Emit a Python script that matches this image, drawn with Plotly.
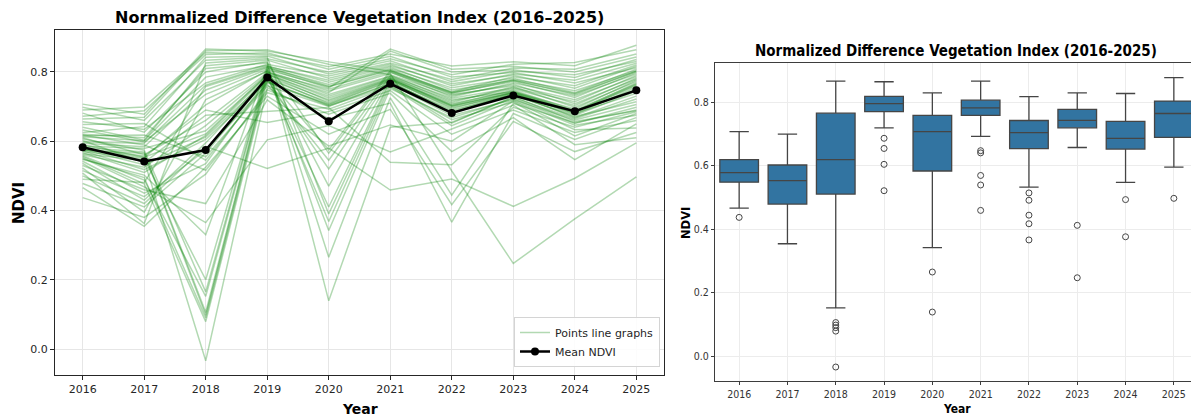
import numpy as np
import plotly.graph_objects as go

years = [2016, 2017, 2018, 2019, 2020, 2021, 2022, 2023, 2024, 2025]

# NDVI value of each sampled point (same point order in every year)
ndvi_2016 = [0.530, 0.570, 0.490, 0.555, 0.586, 0.437, 0.598, 0.547, 0.515, 0.574,
             0.613, 0.558, 0.466, 0.579, 0.625, 0.536, 0.567, 0.648, 0.594, 0.500,
             0.618, 0.549, 0.577, 0.664, 0.522, 0.606, 0.681, 0.561, 0.632, 0.582,
             0.478, 0.602, 0.690, 0.542, 0.640, 0.576, 0.616, 0.707, 0.564, 0.656,
             0.590, 0.508, 0.698, 0.610, 0.552, 0.672, 0.572, 0.620]
ndvi_2017 = [0.460, 0.549, 0.481, 0.477, 0.579, 0.380, 0.594, 0.502, 0.440, 0.565,
             0.601, 0.488, 0.354, 0.557, 0.642, 0.430, 0.510, 0.651, 0.584, 0.420,
             0.589, 0.495, 0.532, 0.669, 0.395, 0.574, 0.626, 0.525, 0.598, 0.569,
             0.410, 0.538, 0.699, 0.450, 0.603, 0.552, 0.618, 0.678, 0.544, 0.634,
             0.554, 0.362, 0.660, 0.561, 0.468, 0.688, 0.518, 0.610]
ndvi_2018 = [0.420, 0.200, 0.758, 0.079, 0.630, 0.505, 0.762, 0.330, 0.575, 0.098,
             0.785, 0.152, 0.525, 0.690, 0.842, 0.595, 0.617, 0.545, 0.748, 0.585,
             0.516, 0.090, 0.612, 0.861, 0.720, 0.165, 0.800, 0.645, 0.735, 0.106,
             0.565, 0.675, 0.856, 0.535, 0.818, 0.705, 0.555, 0.866, -0.034, 0.768,
             0.621, 0.826, 0.834, 0.660, 0.365, 0.850, 0.605, 0.810]
ndvi_2019 = [0.719, 0.810, 0.814, 0.774, 0.790, 0.748, 0.817, 0.816, 0.765, 0.792,
             0.819, 0.800, 0.730, 0.654, 0.846, 0.786, 0.788, 0.769, 0.812, 0.521,
             0.740, 0.784, 0.777, 0.864, 0.802, 0.806, 0.830, 0.794, 0.808, 0.796,
             0.782, 0.686, 0.850, 0.780, 0.834, 0.804, 0.760, 0.860, 0.755, 0.822,
             0.793, 0.838, 0.842, 0.798, 0.604, 0.855, 0.771, 0.826]
ndvi_2020 = [0.586, 0.754, 0.759, 0.704, 0.410, 0.678, 0.770, 0.776, 0.545, 0.716,
             0.265, 0.735, 0.620, 0.686, 0.794, 0.720, 0.368, 0.706, 0.764, 0.580,
             0.692, 0.708, 0.520, 0.822, 0.745, 0.757, 0.139, 0.725, 0.470, 0.740,
             0.575, 0.697, 0.815, 0.712, 0.782, 0.342, 0.700, 0.829, 0.665, 0.788,
             0.730, 0.800, 0.390, 0.750, 0.645, 0.808, 0.702, 0.565]
ndvi_2021 = [0.647, 0.866, 0.807, 0.765, 0.777, 0.738, 0.814, 0.818, 0.790, 0.779,
             0.725, 0.788, 0.692, 0.746, 0.832, 0.781, 0.762, 0.773, 0.810, 0.459,
             0.757, 0.775, 0.784, 0.792, 0.795, 0.805, 0.640, 0.782, 0.780, 0.860,
             0.804, 0.539, 0.852, 0.778, 0.822, 0.752, 0.768, 0.802, 0.710, 0.826,
             0.786, 0.838, 0.771, 0.800, 0.569, 0.845, 0.759, 0.798]
ndvi_2022 = [0.600, 0.808, 0.740, 0.674, 0.694, 0.570, 0.748, 0.766, 0.720, 0.700,
             0.444, 0.724, 0.417, 0.620, 0.772, 0.708, 0.652, 0.680, 0.754, 0.491,
             0.645, 0.697, 0.716, 0.732, 0.514, 0.743, 0.655, 0.703, 0.705, 0.800,
             0.735, 0.532, 0.817, 0.702, 0.760, 0.668, 0.690, 0.741, 0.366, 0.778,
             0.712, 0.792, 0.686, 0.728, 0.635, 0.785, 0.662, 0.738]
ndvi_2023 = [0.716, 0.816, 0.772, 0.720, 0.741, 0.668, 0.776, 0.790, 0.743, 0.739,
             0.709, 0.754, 0.657, 0.690, 0.802, 0.745, 0.729, 0.736, 0.782, 0.412,
             0.718, 0.734, 0.751, 0.764, 0.247, 0.786, 0.726, 0.740, 0.748, 0.806,
             0.760, 0.698, 0.829, 0.742, 0.794, 0.723, 0.732, 0.778, 0.680, 0.811,
             0.757, 0.822, 0.738, 0.768, 0.704, 0.798, 0.713, 0.775]
ndvi_2024 = [0.633, 0.800, 0.726, 0.661, 0.686, 0.547, 0.735, 0.753, 0.693, 0.680,
             0.653, 0.714, 0.570, 0.625, 0.792, 0.685, 0.657, 0.682, 0.740, 0.493,
             0.646, 0.671, 0.703, 0.708, 0.376, 0.760, 0.665, 0.677, 0.689, 0.784,
             0.720, 0.640, 0.818, 0.684, 0.776, 0.651, 0.674, 0.746, 0.605, 0.808,
             0.698, 0.827, 0.668, 0.731, 0.590, 0.768, 0.615, 0.738]
ndvi_2025 = [0.638, 0.843, 0.798, 0.706, 0.768, 0.650, 0.802, 0.816, 0.776, 0.738,
             0.690, 0.790, 0.625, 0.660, 0.830, 0.760, 0.688, 0.751, 0.808, 0.595,
             0.675, 0.714, 0.782, 0.779, 0.497, 0.820, 0.722, 0.756, 0.765, 0.836,
             0.786, 0.685, 0.877, 0.763, 0.825, 0.698, 0.745, 0.804, 0.668, 0.852,
             0.772, 0.864, 0.730, 0.794, 0.610, 0.812, 0.680, 0.801]

ndvi_by_year = [ndvi_2016, ndvi_2017, ndvi_2018, ndvi_2019, ndvi_2020,
                ndvi_2021, ndvi_2022, ndvi_2023, ndvi_2024, ndvi_2025]
y_ticks = [0.0, 0.2, 0.4, 0.6, 0.8]

W, H = 1191, 418
n_points = len(ndvi_2016)
mean_ndvi = [float(np.mean(v)) for v in ndvi_by_year]

fig = go.Figure()

# ---- left panel: every point's time series + mean
for i in range(n_points):
    fig.add_trace(go.Scatter(
        x=years, y=[col[i] for col in ndvi_by_year],
        mode="lines", line=dict(color="rgba(0,128,0,0.3)", width=1.5),
        name="Points line graphs", legendgroup="pts", showlegend=(i == 0),
        hoverinfo="skip", xaxis="x", yaxis="y"))
fig.add_trace(go.Scatter(
    x=years, y=mean_ndvi, mode="lines+markers",
    line=dict(color="black", width=2.5), marker=dict(size=8, color="black"),
    name="Mean NDVI", xaxis="x", yaxis="y"))

# ---- right panel: box plot per year
box_x, box_y = [], []
for yr, vals in zip(years, ndvi_by_year):
    box_x += [str(yr)] * len(vals)
    box_y += list(vals)
fig.add_trace(go.Box(
    x=box_x, y=box_y, xaxis="x2", yaxis="y2",
    boxpoints="outliers", jitter=0, pointpos=0,
    fillcolor="#3274a1", line=dict(color="#454545", width=1.3),
    whiskerwidth=0.5,
    marker=dict(symbol="circle-open", size=6, color="#454545",
                line=dict(width=1, color="#454545")),
    showlegend=False))

tick_font_l = dict(family="DejaVu Sans", size=11, color="#262626")
tick_font_r = dict(family="Liberation Sans Narrow, DejaVu Sans Condensed, Liberation Sans", size=10.5, color="#333333")

fig.update_layout(
    width=W, height=H, margin=dict(l=0, r=0, t=0, b=0),
    paper_bgcolor="white", plot_bgcolor="white",
    boxgap=0.2, boxgroupgap=0,
    xaxis=dict(domain=[55 / W, 664 / W], range=[2015.55, 2025.45],
               tickmode="array", tickvals=years, ticktext=[str(y) for y in years],
               showgrid=True, gridcolor="#e6e6e6", gridwidth=1, zeroline=False,
               showline=True, mirror=True, linecolor="#262626", linewidth=1.2,
               ticks="outside", ticklen=4, tickcolor="#262626", tickfont=tick_font_l,
               anchor="y"),
    yaxis=dict(domain=[1 - 375 / H, 1 - 30 / H], range=[-0.075, 0.921],
               tickmode="array", tickvals=y_ticks, tickformat=".1f",
               showgrid=True, gridcolor="#e6e6e6", gridwidth=1, zeroline=False,
               showline=True, mirror=True, linecolor="#262626", linewidth=1.2,
               ticks="outside", ticklen=4, tickcolor="#262626", tickfont=tick_font_l,
               anchor="x"),
    xaxis2=dict(domain=[715 / W, 1.0], type="category",
                categoryorder="array", categoryarray=[str(y) for y in years],
                range=[-0.5, 9.355],
                showgrid=True, gridcolor="#ececec", gridwidth=1, zeroline=False,
                showline=True, mirror=True, linecolor="#3d3d3d", linewidth=1.3,
                ticks="outside", ticklen=3, tickcolor="#3d3d3d", tickfont=tick_font_r,
                anchor="y2"),
    yaxis2=dict(domain=[1 - 381 / H, 1 - 63 / H], range=[-0.078, 0.923],
                tickmode="array", tickvals=y_ticks, tickformat=".1f",
                showgrid=True, gridcolor="#ececec", gridwidth=1, zeroline=False,
                showline=True, mirror=False, linecolor="#3d3d3d", linewidth=1.3,
                ticks="outside", ticklen=3, tickcolor="#3d3d3d", tickfont=tick_font_r,
                anchor="x2"),
    legend=dict(x=660 / W, xanchor="right", y=1 - 367 / H, yanchor="bottom",
                bgcolor="rgba(255,255,255,0.85)", bordercolor="#d4d4d4", borderwidth=1,
                font=dict(family="DejaVu Sans", size=11, color="#262626"),
                tracegroupgap=0),
)

narrow_bold = "Liberation Sans Narrow, DejaVu Sans Condensed, Liberation Sans"
annotations = [
    dict(text="<b>Nornmalized Difference Vegetation Index (2016–2025)</b>",
         x=359.5 / W, y=1 - 17 / H, font=dict(family="DejaVu Sans", size=16, color="black")),
    dict(text="<b>NDVI</b>", x=19 / W, y=1 - 203 / H, textangle=-90,
         font=dict(family="DejaVu Sans", size=15, color="black")),
    dict(text="<b>Year</b>", x=360 / W, y=1 - 409 / H,
         font=dict(family="DejaVu Sans", size=14, color="black")),
    dict(text="<b>Normalized Difference Vegetation Index (2016-2025)</b>",
         x=956 / W, y=1 - 51 / H, font=dict(family=narrow_bold, size=15, color="black")),
    dict(text="<b>NDVI</b>", x=686 / W, y=1 - 223 / H, textangle=-90,
         font=dict(family="DejaVu Sans", size=11.5, color="black")),
    dict(text="<b>Year</b>", x=957 / W, y=1 - 409 / H,
         font=dict(family=narrow_bold, size=12, color="black")),
]
for a in annotations:
    a.update(xref="paper", yref="paper", showarrow=False, xanchor="center", yanchor="middle")
fig.update_layout(annotations=annotations)

fig.write_html("out.html")
